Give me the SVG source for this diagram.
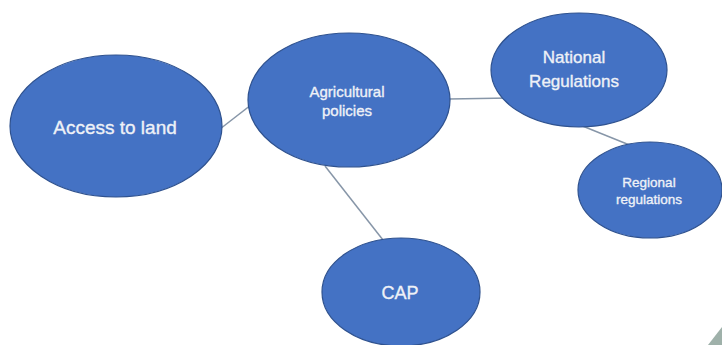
<svg xmlns="http://www.w3.org/2000/svg" width="722" height="345" viewBox="0 0 722 345">
<style>
.node ellipse{fill:#4472c4;stroke:#2f528f;stroke-width:1.2}
.node text{fill:#eef1f7;stroke:#eef1f7;stroke-width:0.35;font-family:"Liberation Sans",Arial,sans-serif;text-anchor:middle}
.edges line{stroke:#8796a8;stroke-width:1.5}
</style>
<rect width="722" height="345" fill="#ffffff"/>
<g class="edges" id="edges">
<line x1="220" y1="129" x2="256" y2="101"/>
<line x1="449" y1="99" x2="510" y2="98"/>
<line x1="580" y1="125" x2="632" y2="146"/>
<line x1="325" y1="166" x2="383" y2="240"/>
</g>
<g class="node" id="access">
<ellipse cx="116" cy="126" rx="106" ry="71"/>
<text x="115" y="134" font-size="19">Access to land</text>
</g>
<g class="node" id="agri">
<ellipse cx="349" cy="100" rx="101" ry="67"/>
<text x="347" y="97" font-size="15">Agricultural</text>
<text x="347" y="116" font-size="15">policies</text>
</g>
<g class="node" id="national">
<ellipse cx="579" cy="70" rx="88" ry="57"/>
<text x="574" y="63" font-size="17">National</text>
<text x="574" y="87" font-size="17">Regulations</text>
</g>
<g class="node" id="regional">
<ellipse cx="650" cy="190" rx="72" ry="48"/>
<text x="649" y="187" font-size="13.5">Regional</text>
<text x="649" y="204" font-size="13.5">regulations</text>
</g>
<g class="node" id="cap">
<ellipse cx="401" cy="292" rx="79" ry="54"/>
<text x="400" y="299" font-size="18">CAP</text>
</g>
<polygon points="708,345 722,327 722,345" fill="#9fb1aa"/>
</svg>
